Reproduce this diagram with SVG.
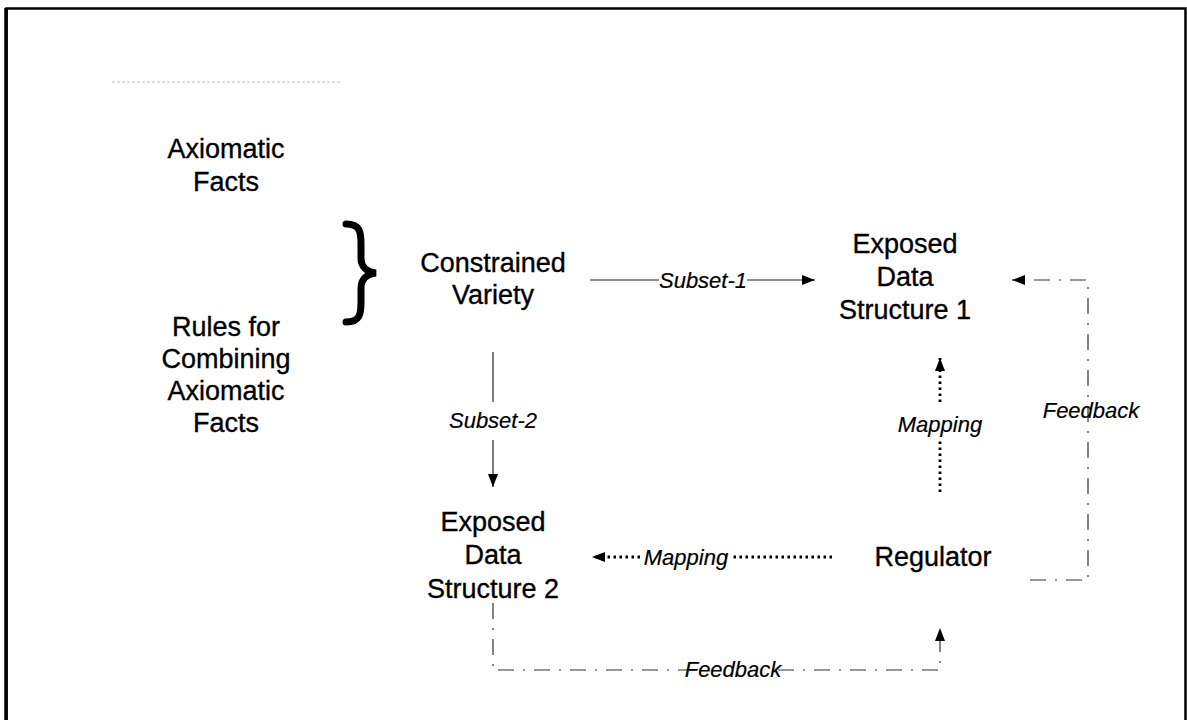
<svg xmlns="http://www.w3.org/2000/svg" width="1187" height="720" viewBox="0 0 1187 720">
<defs>
<marker id="ah" viewBox="0 0 13 10" refX="13" refY="5" markerWidth="13" markerHeight="10" markerUnits="userSpaceOnUse" orient="auto"><path d="M0,0 L13,5 L0,10 z" fill="#000"/></marker>
<style>
.t{font-family:"Liberation Sans",Arial,sans-serif;font-size:27px;fill:#000;stroke:#000;stroke-width:0.35;text-anchor:middle}
.l{font-family:"Liberation Sans",Arial,sans-serif;font-size:22px;font-style:italic;fill:#000;stroke:#000;stroke-width:0.2;text-anchor:middle}
.sub{stroke:#222;stroke-width:1.2;fill:none}
.map{stroke:#000;stroke-width:2.8;stroke-dasharray:2.5 3.5;fill:none}
.fb{stroke:#333;stroke-width:1.2;stroke-dasharray:16 9 2 9;fill:none}
</style>
</defs>
<rect width="1187" height="720" fill="#fff"/>
<path d="M6.5,730 V8.5 H1185.5 V730" fill="none" stroke="#000" stroke-width="2.5"/>
<line x1="6" y1="8" x2="6" y2="720" stroke="#000" stroke-width="3.5"/>
<line x1="112" y1="82" x2="340" y2="82" stroke="#bbb" stroke-width="1" stroke-dasharray="3 2"/>

<g id="axiomatic-facts"><text class="t" x="226" y="158">Axiomatic</text><text class="t" x="226" y="191">Facts</text></g>
<g id="rules"><text class="t" x="226" y="336">Rules for</text><text class="t" x="226" y="368">Combining</text><text class="t" x="226" y="400">Axiomatic</text><text class="t" x="226" y="432">Facts</text></g>
<g id="brace"><path d="M346,224 C360,224 361,232 361,244 L361,258 C361,266 366,272 376,273 C366,274 361,280 361,288 L361,302 C361,314 360,322 346,322" fill="none" stroke="#000" stroke-width="7" stroke-linecap="round"/></g>
<g id="constrained-variety"><text class="t" x="493" y="272">Constrained</text><text class="t" x="493" y="304">Variety</text></g>
<g id="eds1"><text class="t" x="905" y="253">Exposed</text><text class="t" x="905" y="286">Data</text><text class="t" x="905" y="319">Structure 1</text></g>
<g id="eds2"><text class="t" x="493" y="531">Exposed</text><text class="t" x="493" y="564">Data</text><text class="t" x="493" y="598">Structure 2</text></g>
<g id="regulator"><text class="t" x="933" y="566">Regulator</text></g>

<g id="connectors">
<path class="sub" d="M590,280 H659"/>
<path class="sub" d="M747,280 H815" marker-end="url(#ah)"/>
<text class="l" x="703" y="288">Subset-1</text>
<path class="sub" d="M493,352 V402"/>
<path class="sub" d="M493,440 V487" marker-end="url(#ah)"/>
<text class="l" x="493" y="428">Subset-2</text>
<path class="map" d="M940,492 V440"/>
<path class="map" d="M940,402 V358" marker-end="url(#ah)"/>
<text class="l" x="940" y="432">Mapping</text>
<path class="map" d="M832,557 H731"/>
<path class="map" d="M640,557 H592" marker-end="url(#ah)"/>
<text class="l" x="686" y="565">Mapping</text>
<path class="fb" d="M1030,580 H1088 V280 H1012" marker-end="url(#ah)"/>
<text class="l" x="1091" y="418">Feedback</text>
<path class="fb" d="M493,603 V670 H688"/>
<path class="fb" d="M778,670 H940 V628" marker-end="url(#ah)"/>
<text class="l" x="733" y="677">Feedback</text>
</g>
</svg>
